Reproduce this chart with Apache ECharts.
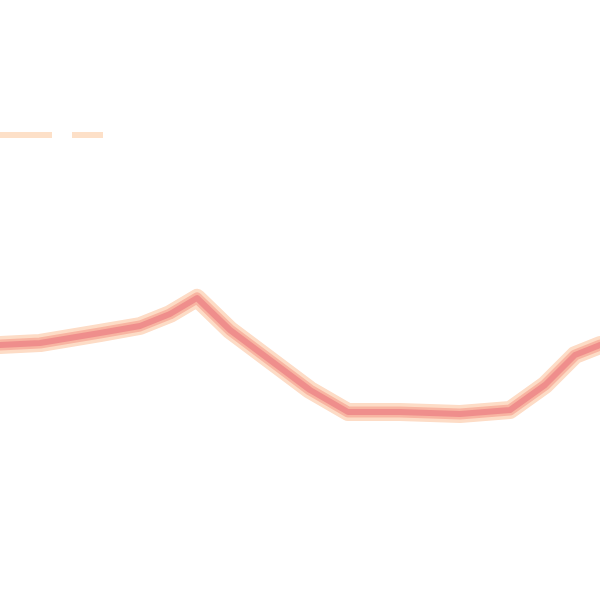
<!DOCTYPE html>
<html><head><meta charset="utf-8">
<script src="https://cdn.jsdelivr.net/npm/echarts@6/dist/echarts.min.js"></script>
<style>html,body{margin:0;padding:0;background:#fff}#c{width:600px;height:600px}</style>
</head><body><div id="c"></div>
<script>
const xs = [0, 40, 100, 140, 170, 197, 230, 270, 310, 348, 400, 460, 510, 545, 575, 600];
const ys = [345, 343, 333, 326, 314, 298, 330, 360, 390, 412, 412, 414, 410, 385, 355, 345];
const dashX = [0, 103];
const dashY = [135, 135];
const mainData = xs.map((x, i) => [x, ys[i]]);
const dashData = dashX.map((x, i) => [x, dashY[i]]);
const chart = echarts.init(document.getElementById('c'));
chart.setOption({
  animation: false,
  grid: {left: 0, right: 0, top: 0, bottom: 0},
  xAxis: {type: 'value', min: 0, max: 600, show: false},
  yAxis: {type: 'value', min: 0, max: 600, inverse: true, show: false},
  series: [
    {type: 'line', data: dashData, symbol: 'none', lineStyle: {color: '#fde0c8', width: 6, type: [52, 20]}},
    {type: 'line', data: mainData, symbol: 'none', lineStyle: {color: '#fddcc6', width: 18, cap: 'round', join: 'round'}},
    {type: 'line', data: mainData, symbol: 'none', lineStyle: {color: '#f8b5a2', width: 11, cap: 'round', join: 'round'}},
    {type: 'line', data: mainData, symbol: 'none', lineStyle: {color: '#ef8e8c', width: 6, cap: 'round', join: 'round'}}
  ]
});
</script></body></html>
